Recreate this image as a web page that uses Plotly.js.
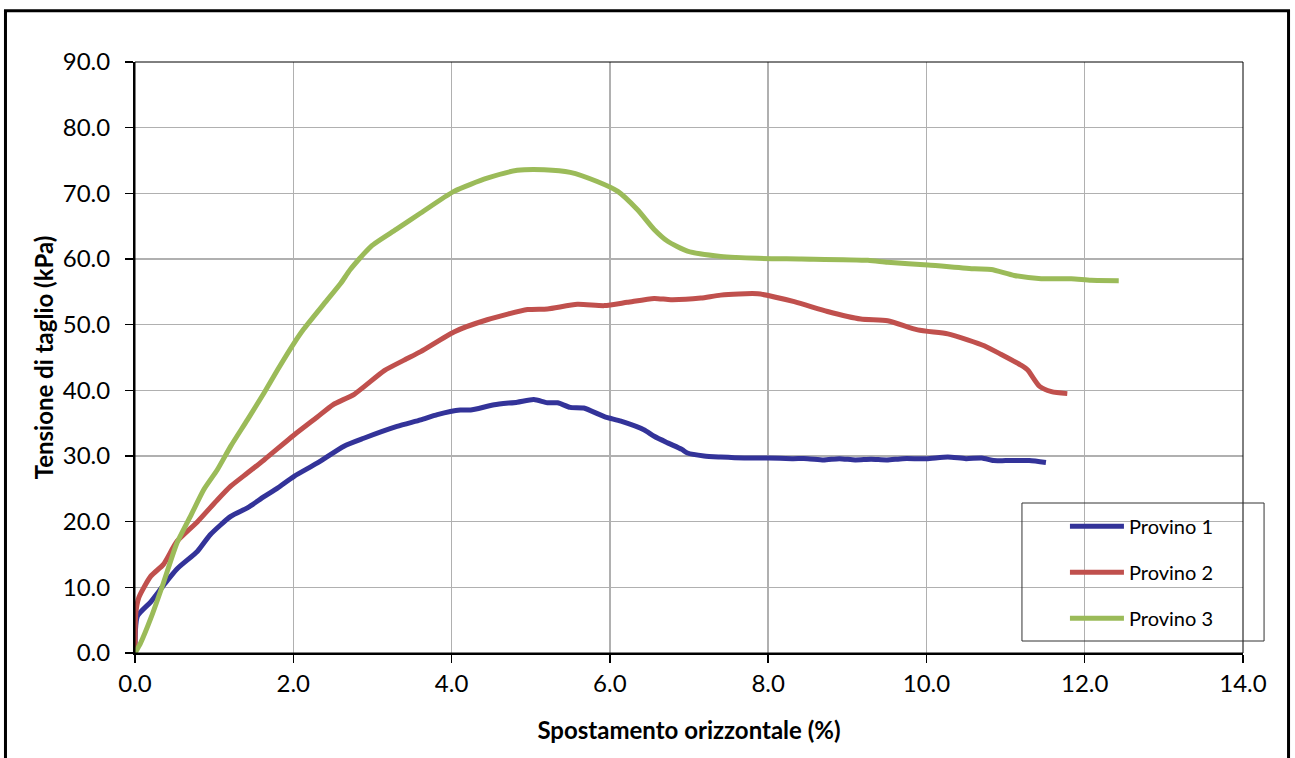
<!DOCTYPE html>
<html>
<head>
<meta charset="utf-8">
<script src="https://cdn.plot.ly/plotly-3.0.1.min.js"></script>
<style>html,body{margin:0;padding:0;background:#fff;}#chart{width:1295px;height:758px;}</style>
</head>
<body>
<div id="chart"></div>
<script>
// Provino 1
const x1 = [0, 0.03, 0.2, 0.36, 0.53, 0.79, 0.95, 1.21, 1.42, 1.63, 1.8, 2.01, 2.3, 2.64, 2.89, 3.31, 3.61, 3.82, 4.11, 4.24, 4.54, 4.83, 5.04, 5.21, 5.34, 5.5, 5.67, 5.93, 6.14, 6.43, 6.56, 6.73, 6.91, 6.98, 7.19, 7.4, 7.7, 8.0, 8.3, 8.5, 8.7, 8.9, 9.1, 9.3, 9.5, 9.7, 10.0, 10.27, 10.5, 10.7, 10.85, 11.0, 11.3, 11.51];
const y1 = [0, 5.6, 7.8, 10.3, 12.8, 15.5, 18.0, 20.8, 22.1, 23.8, 25.1, 26.9, 28.9, 31.5, 32.7, 34.5, 35.5, 36.3, 37.0, 37.0, 37.8, 38.2, 38.6, 38.1, 38.1, 37.4, 37.3, 36.0, 35.3, 34.0, 33.0, 32.0, 31.0, 30.45, 30.0, 29.85, 29.7, 29.7, 29.6, 29.6, 29.4, 29.6, 29.4, 29.5, 29.4, 29.6, 29.6, 29.85, 29.6, 29.7, 29.3, 29.3, 29.3, 29.0];
// Provino 2
const x2 = [0, 0.01, 0.05, 0.2, 0.36, 0.53, 0.79, 1.04, 1.21, 1.42, 1.63, 2.01, 2.3, 2.5, 2.77, 3.15, 3.4, 3.61, 4.03, 4.45, 4.96, 5.21, 5.59, 5.93, 6.22, 6.56, 6.77, 7.15, 7.4, 7.87, 8.33, 8.75, 9.17, 9.51, 9.89, 10.27, 10.52, 10.73, 10.94, 11.2, 11.28, 11.43, 11.58, 11.78];
const y2 = [0, 6, 8.5, 11.7, 13.5, 17.0, 20.0, 23.3, 25.4, 27.4, 29.4, 33.2, 35.9, 37.8, 39.4, 43.0, 44.6, 45.9, 48.9, 50.75, 52.3, 52.4, 53.1, 52.9, 53.4, 54.0, 53.8, 54.05, 54.5, 54.7, 53.5, 52.0, 50.85, 50.6, 49.2, 48.6, 47.7, 46.8, 45.5, 43.8, 43.1, 40.6, 39.8, 39.5];
// Provino 3
const x3 = [0, 0.07, 0.2, 0.36, 0.53, 0.7, 0.87, 1.04, 1.21, 1.42, 1.63, 1.8, 2.01, 2.13, 2.39, 2.6, 2.72, 2.98, 3.3, 3.61, 4.03, 4.45, 4.83, 5.17, 5.5, 5.84, 6.1, 6.35, 6.56, 6.73, 6.98, 7.4, 7.87, 8.42, 9.26, 9.51, 10.02, 10.61, 10.82, 11.11, 11.45, 11.83, 12.08, 12.43];
const y3 = [0, 1.5, 5.3, 10.7, 16.75, 20.8, 24.9, 27.9, 31.5, 35.5, 39.6, 43.1, 47.2, 49.3, 53.2, 56.3, 58.4, 61.9, 64.5, 67.0, 70.3, 72.3, 73.5, 73.6, 73.2, 71.8, 70.3, 67.5, 64.5, 62.7, 61.2, 60.4, 60.1, 60.0, 59.8, 59.5, 59.1, 58.5, 58.4, 57.5, 57.0, 57.0, 56.75, 56.7];

const names = ['Provino 1', 'Provino 2', 'Provino 3'];
const colors = ['#333399', '#C0504D', '#9BBB59'];
const xs = [x1, x2, x3];
const ys = [y1, y2, y3];

const FONT = 'Lato, "Open Sans", sans-serif';

const traces = names.map((n, i) => ({
  x: xs[i], y: ys[i], name: n, type: 'scatter', mode: 'lines',
  legendgroup: 'g' + i,
  line: {color: colors[i], width: 5, shape: 'spline', smoothing: 0.6}
}));

const layout = {
  width: 1295, height: 758,
  margin: {l: 135, r: 52, t: 62, b: 105, pad: 0},
  paper_bgcolor: '#ffffff', plot_bgcolor: '#ffffff',
  font: {family: FONT, color: '#000', size: 24},
  showlegend: true,
  legend: {
    x: 0.8393, y: 0.2473, xanchor: 'left', yanchor: 'top',
    bgcolor: 'rgba(0,0,0,0)', borderwidth: 0,
    font: {family: FONT, size: 20, color: '#000'},
    traceorder: 'grouped', tracegroupgap: 17, itemwidth: 54
  },
  xaxis: {
    range: [0, 14], dtick: 2, tick0: 0, tickformat: '.1f',
    showgrid: true, gridcolor: '#B0B0B0', gridwidth: 1.5,
    zeroline: false, showline: true, linecolor: '#000', linewidth: 2,
    ticks: 'outside', ticklen: 8, tickwidth: 1.5, tickcolor: '#000',
    tickfont: {family: FONT, size: 24, color: '#000'},
    title: {text: '<b>Spostamento orizzontale (%)</b>', font: {family: FONT, size: 24, color: '#000'}, standoff: 26}
  },
  yaxis: {
    range: [0, 90], dtick: 10, tick0: 0, tickformat: '.1f',
    showgrid: true, gridcolor: '#B0B0B0', gridwidth: 1.5,
    zeroline: false, showline: true, linecolor: '#000', linewidth: 2,
    ticks: 'outside', ticklen: 8, tickwidth: 1.5, tickcolor: '#000',
    ticklabelstandoff: 10,
    tickfont: {family: FONT, size: 24, color: '#000'},
    title: {text: '<b>Tensione di taglio (kPa)</b>', font: {family: FONT, size: 24, color: '#000'}, standoff: 2}
  },
  shapes: [
    {type: 'rect', xref: 'paper', yref: 'paper', x0: 0, x1: 1, y0: 0, y1: 1,
     line: {color: '#000', width: 1}, fillcolor: 'rgba(0,0,0,0)', layer: 'above'},
    {type: 'rect', xref: 'paper', yref: 'paper', x0: 0.8005, x1: 1.0190, y0: 0.0203, y1: 0.2538,
     line: {color: '#333', width: 1}, fillcolor: 'rgba(0,0,0,0)', layer: 'above'},
    {type: 'rect', xref: 'paper', yref: 'paper', x0: -0.1169, x1: 1.0411, y0: -0.2149, y1: 1.0866,
     line: {color: '#000', width: 3}, fillcolor: 'rgba(0,0,0,0)', layer: 'above'}
  ]
};

Plotly.newPlot('chart', traces, layout, {displayModeBar: false, staticPlot: true});
</script>
</body>
</html>
